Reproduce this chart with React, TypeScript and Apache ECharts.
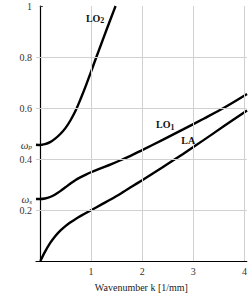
import React, { useEffect, useRef } from "react";
import * as echarts from "echarts";

// Wavenumber k [1/mm] and frequency omega for each branch
const lo2K = [-0.075, 0, 0.1, 0.2, 0.3, 0.4, 0.5, 0.6, 0.7, 0.8, 0.9, 1.0, 1.1, 1.2, 1.3, 1.4, 1.48];
const lo2W = [0.456, 0.455, 0.458, 0.466, 0.48, 0.498, 0.521, 0.552, 0.59, 0.637, 0.688, 0.742, 0.797, 0.851, 0.905, 0.958, 1.0];

const lo1K = [-0.075, 0, 0.1, 0.2, 0.3, 0.4, 0.5, 0.6, 0.7, 0.8, 0.9, 1.0, 1.2, 1.4, 1.6, 1.8, 2.0, 2.4, 2.8, 3.2, 3.6, 4.05];
const lo1W = [0.243, 0.243, 0.245, 0.251, 0.261, 0.274, 0.289, 0.304, 0.318, 0.329, 0.339, 0.348, 0.364, 0.38, 0.397, 0.415, 0.435, 0.475, 0.516, 0.558, 0.601, 0.655];

const laK = [0.01, 0.1, 0.2, 0.3, 0.4, 0.5, 0.6, 0.7, 0.8, 1.0, 1.2, 1.4, 1.6, 1.8, 2.0, 2.4, 2.8, 3.2, 3.6, 4.05];
const laW = [0.0, 0.036, 0.07, 0.097, 0.119, 0.137, 0.152, 0.165, 0.177, 0.199, 0.221, 0.243, 0.267, 0.292, 0.317, 0.368, 0.42, 0.474, 0.529, 0.59];

// Axis ticks / labels
const xTicks = [1, 2, 3, 4];
const yGrid = [0.2, 0.4, 0.6, 0.8];
const yLabelValues = [0.2, 0.243, 0.4, 0.455, 0.6, 0.8, 1];
const yLabelTexts = ["0.2", "{w|ω}{s|s}", "0.4", "{w|ω}{s|p}", "0.6", "0.8", "1"];

// Curve names (annotation text)
const curveNames = ["LO", "LO", "LA"];
const curveSubs = ["2", "1", ""];

const FONT = "Liberation Serif";

function pairs(ks: number[], ws: number[]) {
  return ks.map((k, i) => [k, ws[i]]);
}

export default function App() {
  const ref = useRef<HTMLDivElement>(null);
  useEffect(() => {
    const chart = echarts.init(ref.current!, null, { renderer: "svg" });
    const labelRich = {
      a: { fontFamily: FONT, fontSize: 10, color: "#111", fontWeight: "bold" },
      s: { fontFamily: FONT, fontSize: 8, color: "#111", fontWeight: "bold", padding: [5, 0, 0, 0] },
    };
    const mkLabel = (idx: number, coord: number[]) => ({
      symbol: "circle",
      symbolSize: 0,
      itemStyle: { color: "transparent" },
      label: {
        show: true,
        position: "inside",
        fontFamily: FONT,
        formatter: curveSubs[idx] ? `{a|${curveNames[idx]}}{s|${curveSubs[idx]}}` : `{a|${curveNames[idx]}}`,
        rich: labelRich,
      },
      data: [{ coord }],
    });
    const lineCommon = {
      type: "line",
      showSymbol: false,
      smooth: 0.3,
      lineStyle: { color: "#000", width: 2.4 },
      z: 3,
    };
    chart.setOption({
      animation: false,
      backgroundColor: "#fff",
      textStyle: { fontFamily: FONT },
      grid: { left: 36, right: 3, top: 6, bottom: 35, containLabel: false },
      xAxis: {
        type: "value",
        min: -0.075,
        max: 4.045,
        name: "Wavenumber k [1/mm]",
        nameLocation: "middle",
        nameGap: 21,
        nameTextStyle: { fontFamily: FONT, fontSize: 10, color: "#222" },
        axisLine: { show: true, lineStyle: { color: "#000", width: 1.2 } },
        axisTick: { show: true, inside: true, length: 3, customValues: xTicks, lineStyle: { color: "#333" } },
        axisLabel: {
          customValues: xTicks,
          formatter: (v: number) => String(v),
          fontFamily: FONT,
          fontSize: 10,
          color: "#333",
          margin: 5,
        },
        splitLine: { show: false },
      },
      yAxis: {
        type: "value",
        min: 0,
        max: 1,
        axisLine: { show: true, lineStyle: { color: "#000", width: 1.2 } },
        axisTick: { show: true, inside: true, length: 3, customValues: yLabelValues, lineStyle: { color: "#333" } },
        axisLabel: {
          customValues: yLabelValues,
          formatter: (v: number) => {
            let best = 0;
            yLabelValues.forEach((y, i) => {
              if (Math.abs(y - v) < Math.abs(yLabelValues[best] - v)) best = i;
            });
            return yLabelTexts[best];
          },
          fontFamily: FONT,
          fontSize: 10,
          color: "#333",
          margin: 4,
          rich: {
            w: { fontFamily: FONT, fontSize: 11, fontStyle: "italic", color: "#333" },
            s: { fontFamily: FONT, fontSize: 7, fontStyle: "italic", color: "#333", padding: [5, 0, 0, 0] },
          },
        },
        splitLine: { show: false },
      },
      series: [
        {
          type: "line",
          data: [],
          silent: true,
          z: 1,
          markLine: {
            silent: true,
            symbol: ["none", "none"],
            label: { show: false },
            lineStyle: { color: "#d0d0d0", width: 1, type: "solid" },
            data: [
              ...xTicks.map((x) => ({ xAxis: x })),
              ...yGrid.map((y) => ({ yAxis: y })),
            ],
          },
        },
        { ...lineCommon, name: "LO2", data: pairs(lo2K, lo2W), markPoint: mkLabel(0, [1.08, 0.952]) },
        { ...lineCommon, name: "LO1", data: pairs(lo1K, lo1W), markPoint: mkLabel(1, [2.45, 0.535]) },
        { ...lineCommon, name: "LA", data: pairs(laK, laW), markPoint: mkLabel(2, [2.9, 0.473]) },
      ],
    });
    return () => chart.dispose();
  }, []);
  return (
    <div
      ref={ref}
      style={{ position: "fixed", left: 0, top: 0, width: 250, height: 297, background: "#fff" }}
    />
  );
}
